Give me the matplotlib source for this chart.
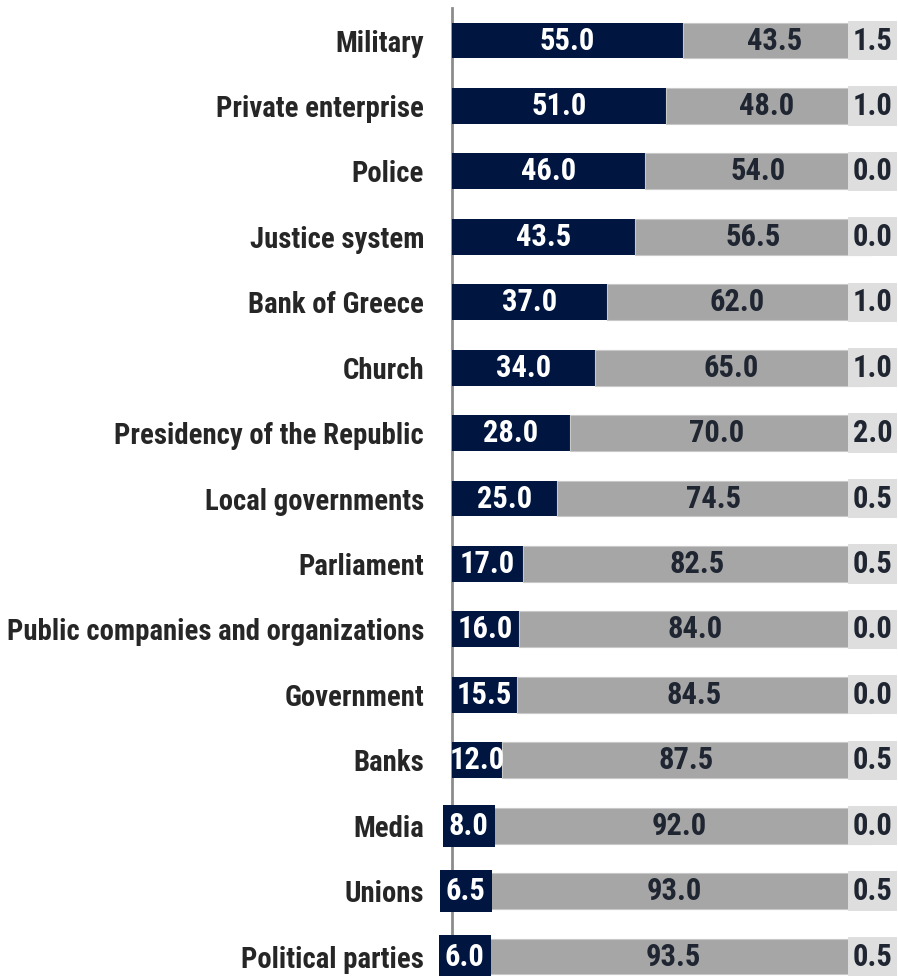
import matplotlib.pyplot as plt
import numpy as np

plt.rcParams['font.family'] = ['Roboto Condensed', 'Liberation Sans', 'DejaVu Sans']

categories = ['Military', 'Private enterprise', 'Police', 'Justice system',
              'Bank of Greece', 'Church', 'Presidency of the Republic',
              'Local governments', 'Parliament',
              'Public companies and organizations', 'Government', 'Banks',
              'Media', 'Unions', 'Political parties']
trust = [55.0, 51.0, 46.0, 43.5, 37.0, 34.0, 28.0, 25.0, 17.0, 16.0, 15.5,
         12.0, 8.0, 6.5, 6.0]
no_trust = [43.5, 48.0, 54.0, 56.5, 62.0, 65.0, 70.0, 74.5, 82.5, 84.0, 84.5,
            87.5, 92.0, 93.0, 93.5]
dont_know = [1.5, 1.0, 0.0, 0.0, 1.0, 1.0, 2.0, 0.5, 0.5, 0.0, 0.0, 0.5, 0.0,
             0.5, 0.5]

navy = '#001540'
gray = '#a6a6a6'
light = '#dedede'
dark_txt = '#1f2631'

fig = plt.figure(figsize=(8.98, 9.76), dpi=100)
ax = fig.add_axes([452 / 898, 0, 446 / 898, 1])

y = np.arange(len(categories))
trust = np.array(trust)
no_trust = np.array(no_trust)
dont_know = np.array(dont_know)

h = 0.55
ax.barh(y, trust, height=h, color=navy)
ax.barh(y, no_trust, left=trust, height=h, color=gray, edgecolor='#c8c8c8', linewidth=0.8)
ax.barh(y, dont_know, left=trust + no_trust, height=h, color=light)

fs = 22
for i in y:
    t = trust[i]
    kw = {}
    if t < 10:
        # label is wider than the bar: give it a navy box
        kw['bbox'] = dict(boxstyle='square,pad=0.2', fc=navy, ec='none')
    ax.text(t / 2, i, f'{t:.1f}', ha='center', va='center', color='white',
            fontsize=fs, fontweight='bold', **kw)
    ax.text(t + no_trust[i] / 2, i, f'{no_trust[i]:.1f}', ha='center', va='center',
            color=dark_txt, fontsize=fs, fontweight='bold')
    ax.text(100.2, i, f'{dont_know[i]:.1f}', ha='center', va='center',
            color=dark_txt, fontsize=fs, fontweight='bold',
            bbox=dict(boxstyle='square,pad=0.15', fc=light, ec='none'))

ax.set_xlim(0, 446 / 4.2)
ax.set_ylim(14.298, -0.619)
ax.set_yticks(y)
ax.set_yticklabels(categories, fontsize=20.7, fontweight='bold', color='#262626')
ax.tick_params(axis='y', length=0, pad=20)
ax.set_xticks([])
for s in ['top', 'right', 'bottom']:
    ax.spines[s].set_visible(False)
ax.spines['left'].set_color('#8c8c8c')
ax.spines['left'].set_linewidth(2)
ax.spines['left'].set_bounds(14.3, -0.5)
ax.spines['left'].set_zorder(0)

fig.savefig('out.png', dpi=100)
